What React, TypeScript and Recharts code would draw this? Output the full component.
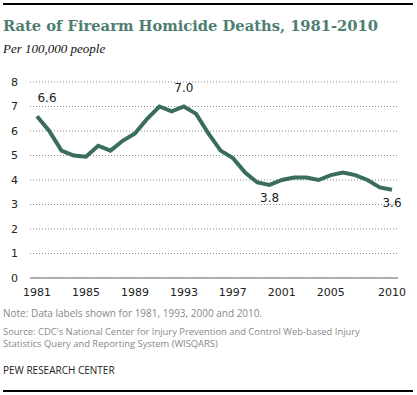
import React from "react"
import { LineChart, Line, XAxis, YAxis, CartesianGrid, LabelList } from "recharts"

const years = [
  1981, 1982, 1983, 1984, 1985, 1986, 1987, 1988, 1989, 1990,
  1991, 1992, 1993, 1994, 1995, 1996, 1997, 1998, 1999, 2000,
  2001, 2002, 2003, 2004, 2005, 2006, 2007, 2008, 2009, 2010,
]
const rates = [
  6.6, 6.0, 5.2, 5.0, 4.95, 5.4, 5.2, 5.6, 5.9, 6.5,
  7.0, 6.8, 7.0, 6.7, 5.9, 5.2, 4.9, 4.3, 3.9, 3.8,
  4.0, 4.1, 4.1, 4.0, 4.2, 4.3, 4.2, 4.0, 3.7, 3.6,
]
const labeledYears = [1981, 1993, 2000, 2010]
const xTicks = [1981, 1985, 1989, 1993, 1997, 2001, 2005, 2010]
const yTicks = [0, 1, 2, 3, 4, 5, 6, 7, 8]

const chartData = years.map((year, i) => ({
  year,
  rate: rates[i],
  label: labeledYears.includes(year) ? rates[i].toFixed(1) : "",
}))

const lineColor = "#3a6e5b"
const tickStyle = { fill: "#222", fontSize: 11, fontFamily: "DejaVu Sans" }
const noteStyle: React.CSSProperties = {
  position: "absolute",
  left: 3,
  fontFamily: "Open Sans",
  fontSize: 10,
  color: "#888",
  whiteSpace: "nowrap",
}

function PointLabel(props: any) {
  const { x, y, value, index } = props
  if (!value) return null
  const year = chartData[index].year
  let dx = 0
  let dy = -12
  if (year === 1981) {
    dx = 10
    dy = -14
  }
  if (year === 1993) dy = -15
  if (year === 2000 || year === 2010) dy = 17
  return (
    <text x={x + dx} y={y + dy} textAnchor="middle" fill="#222" fontSize={12} fontFamily="DejaVu Sans">
      {value}
    </text>
  )
}

export default function App() {
  return (
    <div style={{ position: "relative", width: 417, height: 395, background: "#fff", overflow: "hidden" }}>
      <style>{"body{margin:0}"}</style>
      <div style={{ position: "absolute", left: 3, width: 410, top: 3, height: 2, background: "#000" }} />
      <div
        style={{
          position: "absolute",
          left: 3,
          top: 16.5,
          fontFamily: "DejaVu Serif",
          fontWeight: "bold",
          fontSize: 14.7,
          lineHeight: "18px",
          color: "#4d7e71",
          whiteSpace: "nowrap",
        }}
      >
        Rate of Firearm Homicide Deaths, 1981-2010
      </div>
      <div
        style={{
          position: "absolute",
          left: 3,
          top: 41,
          fontFamily: "Liberation Serif",
          fontStyle: "italic",
          fontSize: 13,
          lineHeight: "16px",
          color: "#111",
        }}
      >
        Per 100,000 people
      </div>
      <div style={{ position: "absolute", left: 0, top: 60 }}>
        <LineChart width={417} height={238} data={chartData} margin={{ top: 22, right: 19, bottom: 0, left: 0 }}>
          <CartesianGrid vertical={false} stroke="#888" strokeDasharray="1 2" />
          <XAxis
            dataKey="year"
            type="number"
            domain={[1981, 2010]}
            ticks={xTicks}
            interval={0}
            height={20}
            padding={{ left: 7, right: 6 }}
            tickLine={false}
            axisLine={{ stroke: "#999", strokeWidth: 1.5 }}
            tick={tickStyle}
            tickMargin={4}
          />
          <YAxis
            type="number"
            domain={[0, 8]}
            ticks={yTicks}
            interval={0}
            width={30}
            tickLine={false}
            axisLine={false}
            tick={tickStyle}
            tickMargin={6}
          />
          <Line
            type="linear"
            dataKey="rate"
            stroke={lineColor}
            strokeWidth={4}
            dot={false}
            isAnimationActive={false}
          >
            <LabelList dataKey="label" content={<PointLabel />} />
          </Line>
        </LineChart>
      </div>
      <div style={{ ...noteStyle, top: 307, lineHeight: "13px" }}>
        Note: Data labels shown for 1981, 1993, 2000 and 2010.
      </div>
      <div style={{ ...noteStyle, top: 327, fontSize: 9.4, lineHeight: "10px" }}>
        Source: CDC's National Center for Injury Prevention and Control Web-based Injury
      </div>
      <div style={{ ...noteStyle, top: 339, fontSize: 9.4, lineHeight: "10px" }}>
        Statistics Query and Reporting System (WISQARS)
      </div>
      <div style={{ ...noteStyle, top: 364, lineHeight: "13px", color: "#222" }}>
        PEW RESEARCH CENTER
      </div>
      <div style={{ position: "absolute", left: 3, width: 410, top: 390, height: 2, background: "#000" }} />
    </div>
  )
}
